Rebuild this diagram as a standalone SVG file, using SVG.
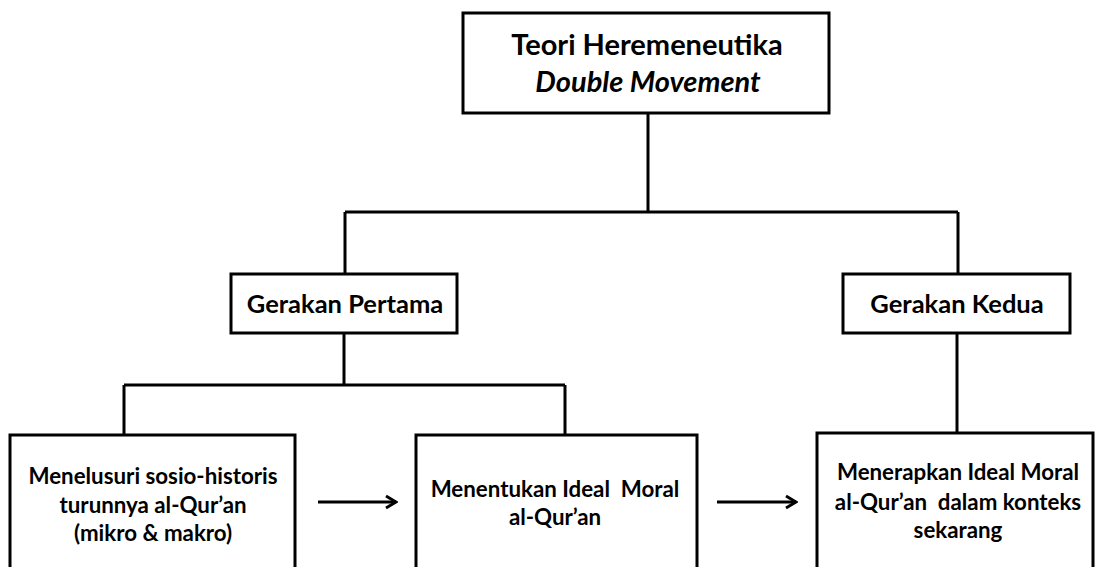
<svg xmlns="http://www.w3.org/2000/svg" width="1098" height="567" viewBox="0 0 1098 567">
<style>
.box{fill:#fff;stroke:#000;stroke-width:3}
.ln{fill:none;stroke:#000;stroke-width:3}
text{font-family:Lato,"Open Sans","Liberation Sans",sans-serif;font-weight:bold;fill:#000;text-anchor:middle;white-space:pre}
.t1{font-size:29px}
.t2{font-size:25.5px}
.t3{font-size:22.3px}
</style>
<defs>
<marker id="ah" viewBox="0 0 14 16" refX="12" refY="8" markerWidth="14" markerHeight="16" markerUnits="userSpaceOnUse" orient="auto">
<path d="M2,2 L12,8 L2,14" fill="none" stroke="#000" stroke-width="3"/>
</marker>
</defs>
<g id="connectors">
<path class="ln" d="M648,113 V212 M345,212 H958 M345,212 V274 M958,212 V274"/>
<path class="ln" d="M344,333 V385 M124,385 H565 M124,385 V435 M565,385 V435"/>
<path class="ln" d="M957,333 V433"/>
<line class="ln" x1="318" y1="502" x2="396" y2="502" marker-end="url(#ah)"/>
<line class="ln" x1="717" y1="502" x2="796" y2="502" marker-end="url(#ah)"/>
</g>
<g id="top">
<rect class="box" x="463" y="13" width="366" height="100"/>
<text class="t1" x="647" y="55">Teori Heremeneutika</text>
<text class="t1" x="648" y="92" font-style="italic">Double Movement</text>
</g>
<g id="gerakan-pertama">
<rect class="box" x="231" y="274" width="226" height="59"/>
<text class="t2" x="345" y="313">Gerakan Pertama</text>
</g>
<g id="gerakan-kedua">
<rect class="box" x="843" y="274" width="227" height="59"/>
<text class="t2" x="957" y="313">Gerakan Kedua</text>
</g>
<g id="box1">
<rect class="box" x="10" y="435" width="285" height="140"/>
<text class="t3" x="153" y="484">Menelusuri sosio-historis</text>
<text class="t3" x="153" y="513">turunnya al-Qur’an</text>
<text class="t3" x="153" y="541">(mikro &amp; makro)</text>
</g>
<g id="box2">
<rect class="box" x="416" y="435" width="281" height="140"/>
<text class="t3" x="555" y="497" xml:space="preserve">Menentukan Ideal  Moral</text>
<text class="t3" x="555" y="525">al-Qur’an</text>
</g>
<g id="box3">
<rect class="box" x="817" y="433" width="276" height="140"/>
<text class="t3" x="958" y="480">Menerapkan Ideal Moral</text>
<text class="t3" x="958" y="510" xml:space="preserve">al-Qur’an  dalam konteks</text>
<text class="t3" x="958" y="538">sekarang</text>
</g>
</svg>
